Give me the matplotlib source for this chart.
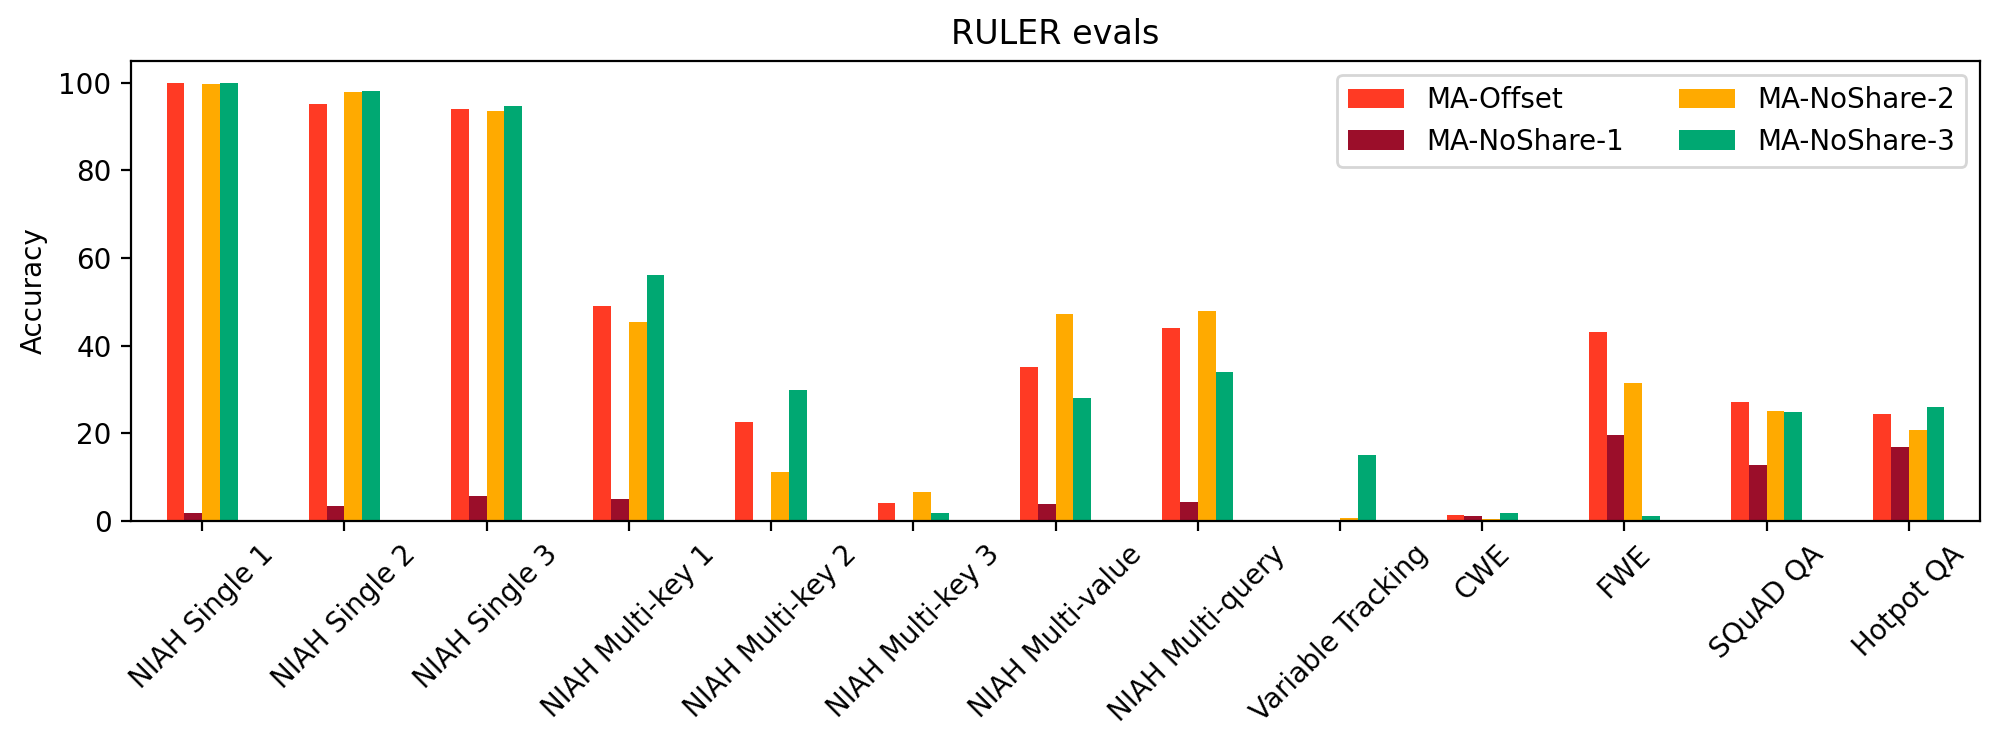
import matplotlib
matplotlib.use("Agg")
import matplotlib.pyplot as plt
import numpy as np

categories = ["NIAH Single 1", "NIAH Single 2", "NIAH Single 3", "NIAH Multi-key 1",
              "NIAH Multi-key 2", "NIAH Multi-key 3", "NIAH Multi-value", "NIAH Multi-query",
              "Variable Tracking", "CWE", "FWE", "SQuAD QA", "Hotpot QA"]
series_names = ["MA-Offset", "MA-NoShare-1", "MA-NoShare-2", "MA-NoShare-3"]
ma_offset = [100.0, 95.2, 94.0, 49.0, 22.5, 4.0, 35.2, 44.0, 0.0, 1.2, 43.2, 27.0, 24.3]
ma_noshare_1 = [1.8, 3.4, 5.6, 4.9, 0.0, 0.0, 3.8, 4.3, 0.0, 1.0, 19.6, 12.7, 16.8]
ma_noshare_2 = [99.8, 97.9, 93.6, 45.4, 11.1, 6.5, 47.2, 47.9, 0.6, 0.4, 31.4, 25.0, 20.7]
ma_noshare_3 = [100.0, 98.2, 94.7, 56.1, 29.8, 1.7, 28.1, 34.0, 15.0, 1.7, 1.0, 24.8, 26.0]
colors = ["#ff3a24", "#9b0e2a", "#ffaa00", "#00a872"]

values = [ma_offset, ma_noshare_1, ma_noshare_2, ma_noshare_3]

fig = plt.figure(figsize=(9.995, 3.735), dpi=200)
ax = fig.add_axes([131/1999, 1 - 520.7/747, (1980-131)/1999, (520.7-61)/747])

n = len(series_names)
x = np.arange(len(categories))
total_w = 0.5
w = total_w / n
for i, (name, vals, c) in enumerate(zip(series_names, values, colors)):
    offs = -total_w/2 + w/2 + i*w
    ax.bar(x + offs, vals, width=w, color=c, label=name)

ax.set_xlim(-0.5, len(categories) - 0.5)
ax.set_ylim(0, 105)
ax.set_xticks(x)
ax.set_xticklabels(categories, rotation=45)
ax.set_ylabel("Accuracy")
ax.set_title("RULER evals")
ax.legend(ncol=2, loc="upper right")

fig.savefig("out.png", dpi=200)
